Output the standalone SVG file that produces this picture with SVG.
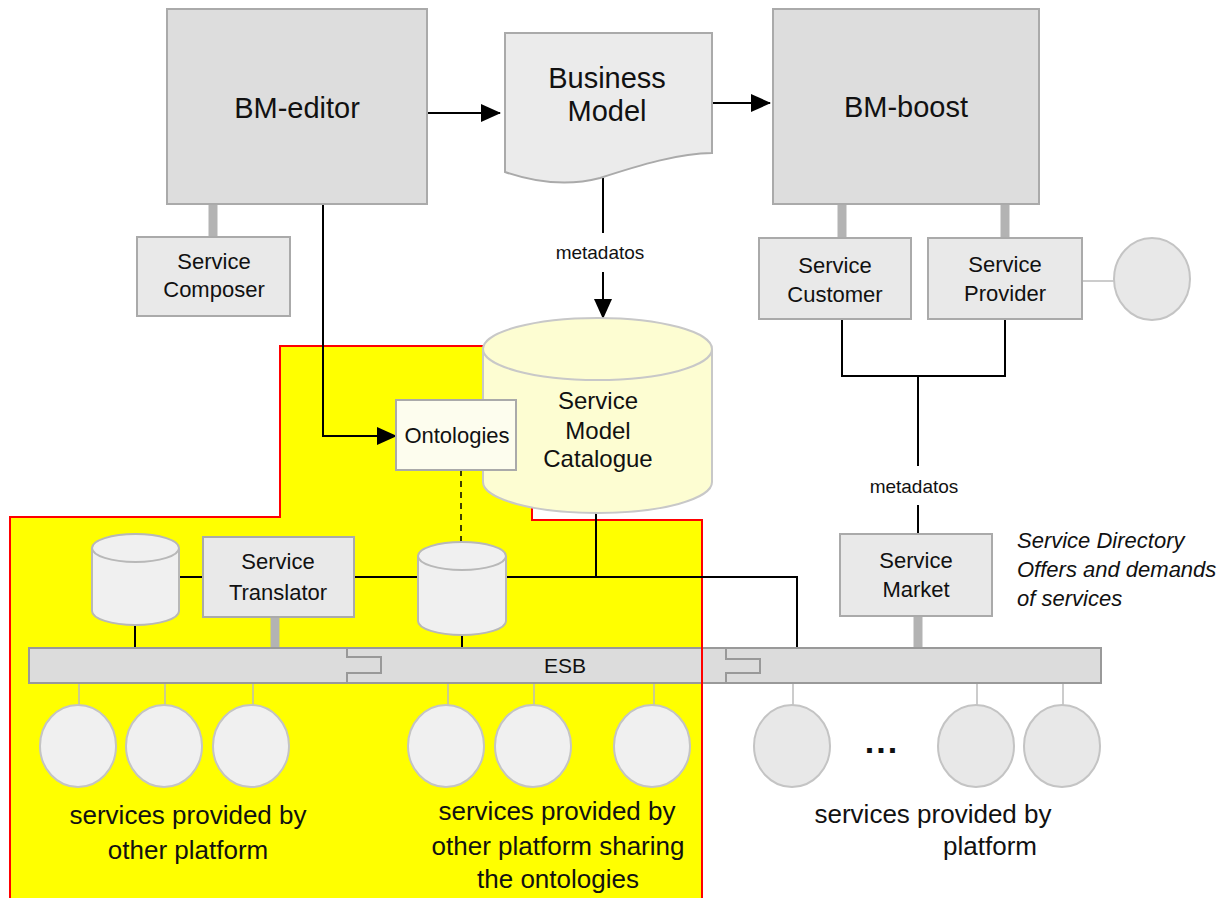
<svg xmlns="http://www.w3.org/2000/svg" width="1225" height="898" viewBox="0 0 1225 898">
<defs>
<marker id="ah" markerUnits="userSpaceOnUse" markerWidth="20" markerHeight="20" viewBox="0 0 20 20" refX="19" refY="10" orient="auto"><path d="M0,1 L20,10 L0,19 Z" fill="#000"/></marker>
<style>
text{font-family:"Liberation Sans",Arial,sans-serif;fill:#111;text-anchor:middle}
.big{fill:#dddddd;stroke:#aaaaaa;stroke-width:2}
.box{fill:#e9e9e9;stroke:#aaaaaa;stroke-width:2}
.stub{stroke:#b3b3b3;stroke-width:9}
.ln{stroke:#000;stroke-width:2;fill:none}
.gl{stroke:#bbbbbb;stroke-width:1.5;fill:none}
.svc{fill:#f0f0f0;stroke:#c4c4c4;stroke-width:2}
.svc2{fill:#e8e8e8;stroke:#c4c4c4;stroke-width:2}
.cyl{fill:#f0f0f0;stroke:#b8b8b8;stroke-width:2}
.t29{font-size:29px}
.t22{font-size:22px}
.t24{font-size:24px}
.t26{font-size:26px}
.t19{font-size:19px}
</style>
</defs>
<rect width="1225" height="898" fill="#fff"/>
<g id="platform-region">
<polygon points="10,517 280,517 280,346 532,346 532,520 702,520 702,900 10,900" fill="#ffff00" stroke="#ff0000" stroke-width="2"/>
</g>
<g id="connectors">
<line class="stub" x1="213" y1="204" x2="213" y2="237"/>
<line class="stub" x1="842" y1="204" x2="842" y2="238"/>
<line class="stub" x1="1005" y1="204" x2="1005" y2="238"/>
<line class="stub" x1="275" y1="617" x2="275" y2="648"/>
<line class="stub" x1="918" y1="616" x2="918" y2="648"/>
<line class="ln" x1="427" y1="113" x2="500" y2="113" stroke-width="2.5" marker-end="url(#ah)"/>
<line class="ln" x1="712" y1="103" x2="770" y2="103" stroke-width="2.5" marker-end="url(#ah)"/>
<line class="ln" x1="603" y1="178" x2="603" y2="233"/>
<line class="ln" x1="603" y1="272" x2="603" y2="318" marker-end="url(#ah)"/>
<polyline class="ln" points="323,204 323,436 396,436" marker-end="url(#ah)"/>
<polyline class="ln" points="842,319 842,376 1005,376 1005,319"/>
<line class="ln" x1="918" y1="376" x2="918" y2="466"/>
<line class="ln" x1="918" y1="505" x2="918" y2="534"/>
<line class="gl" x1="1082" y1="281" x2="1114" y2="281"/>
<line x1="461" y1="470" x2="461" y2="542" stroke="#000" stroke-width="1.5" stroke-dasharray="6,5"/>
<line class="ln" x1="179" y1="577" x2="203" y2="577"/>
<line class="ln" x1="354" y1="577" x2="418" y2="577"/>
<polyline class="ln" points="506,577 797,577 797,648"/>
<line class="ln" x1="596" y1="513" x2="596" y2="577"/>
<line class="ln" x1="135" y1="625" x2="135" y2="648" stroke-width="1.5"/>
<line class="ln" x1="462" y1="635" x2="462" y2="648" stroke-width="1.5"/>
<line class="gl" x1="79" y1="683" x2="79" y2="705"/>
<line class="gl" x1="165" y1="683" x2="165" y2="705"/>
<line class="gl" x1="253" y1="683" x2="253" y2="705"/>
<line class="gl" x1="448" y1="683" x2="448" y2="705"/>
<line class="gl" x1="534" y1="683" x2="534" y2="705"/>
<line class="gl" x1="654" y1="683" x2="654" y2="705"/>
<line class="gl" x1="793" y1="683" x2="793" y2="705"/>
<line class="gl" x1="977" y1="683" x2="977" y2="705"/>
<line class="gl" x1="1063" y1="683" x2="1063" y2="705"/>
</g>
<g id="bm-editor">
<rect class="big" x="167" y="9" width="260" height="195"/>
<text class="t29" x="297" y="118">BM-editor</text>
</g>
<g id="business-model">
<path d="M505,33 H712 V153 C680,153 640,165 600,178 C570,186 540,184 505,172 Z" fill="#ebebeb" stroke="#aaaaaa" stroke-width="2"/>
<text class="t29" x="607" y="88">Business</text>
<text class="t29" x="607" y="121">Model</text>
</g>
<g id="bm-boost">
<rect class="big" x="773" y="9" width="266" height="195"/>
<text class="t29" x="906" y="117">BM-boost</text>
</g>
<g id="service-composer">
<rect class="box" x="137" y="237" width="153" height="79"/>
<text class="t22" x="214" y="269">Service</text>
<text class="t22" x="214" y="297">Composer</text>
</g>
<g id="service-customer">
<rect class="box" x="759" y="238" width="152" height="81"/>
<text class="t22" x="835" y="273">Service</text>
<text class="t22" x="835" y="302">Customer</text>
</g>
<g id="service-provider">
<rect class="box" x="928" y="238" width="154" height="81"/>
<text class="t22" x="1005" y="272">Service</text>
<text class="t22" x="1005" y="301">Provider</text>
</g>
<g id="provider-service">
<ellipse class="svc2" cx="1152" cy="279" rx="38" ry="41"/>
</g>
<g id="label-metadatos-1"><text class="t19" x="600" y="259">metadatos</text></g>
<g id="label-metadatos-2"><text class="t19" x="914" y="493">metadatos</text></g>
<g id="service-model-catalogue">
<path d="M483,349 V482 A114.5,31 0 0 0 712,482 V349" fill="#fdfdd2" stroke="#c8c8c8" stroke-width="2"/>
<ellipse cx="597.5" cy="349" rx="114.5" ry="31" fill="#fdfdd2" stroke="#c8c8c8" stroke-width="2"/>
<text class="t24" x="598" y="409">Service</text>
<text class="t24" x="598" y="439">Model</text>
<text class="t24" x="598" y="467">Catalogue</text>
</g>
<g id="ontologies">
<rect x="396" y="400" width="120" height="70" fill="#fdfdee" stroke="#aaaaaa" stroke-width="2"/>
<text class="t22" x="457" y="443">Ontologies</text>
</g>
<g id="repo-left">
<path class="cyl" d="M92,548 V611 A43.5,14 0 0 0 179,611 V548"/>
<ellipse class="cyl" cx="135.5" cy="548" rx="43.5" ry="14"/>
</g>
<g id="repo-mid">
<path class="cyl" d="M418,556 V621 A44,14 0 0 0 506,621 V556"/>
<ellipse class="cyl" cx="462" cy="556" rx="44" ry="14"/>
</g>
<g id="service-translator">
<rect class="box" x="203" y="537" width="151" height="80"/>
<text class="t22" x="278" y="569">Service</text>
<text class="t22" x="278" y="600">Translator</text>
</g>
<g id="service-market">
<rect class="box" x="840" y="534" width="152" height="82"/>
<text class="t22" x="916" y="568">Service</text>
<text class="t22" x="916" y="597">Market</text>
</g>
<g id="esb">
<rect x="29" y="648" width="1072" height="35" fill="#dcdcdc" stroke="#999999" stroke-width="2"/>
<path d="M347,648 V657 H381 V673 H347 V683" fill="none" stroke="#999999" stroke-width="2"/>
<path d="M726,648 V659 H760 V673 H726 V683" fill="none" stroke="#999999" stroke-width="2"/>
<text x="565" y="673" style="font-size:21px">ESB</text>
<line x1="702" y1="646" x2="702" y2="685" stroke="#ff0000" stroke-width="2"/>
</g>
<g id="services-other">
<ellipse class="svc" cx="78" cy="746" rx="38" ry="41"/>
<ellipse class="svc" cx="164" cy="746" rx="38" ry="41"/>
<ellipse class="svc" cx="251" cy="746" rx="38" ry="41"/>
<text class="t26" x="188" y="824">services provided by</text>
<text class="t26" x="188" y="859">other platform</text>
</g>
<g id="services-sharing">
<ellipse class="svc" cx="446" cy="746" rx="38" ry="41"/>
<ellipse class="svc" cx="533" cy="746" rx="38" ry="41"/>
<ellipse class="svc" cx="652" cy="746" rx="38" ry="41"/>
<text class="t26" x="557" y="820">services provided by</text>
<text class="t26" x="558" y="855">other platform sharing</text>
<text class="t26" x="558" y="888">the ontologies</text>
</g>
<g id="services-platform">
<ellipse class="svc2" cx="792" cy="746" rx="38" ry="41"/>
<ellipse class="svc2" cx="976" cy="746" rx="38" ry="41"/>
<ellipse class="svc2" cx="1062" cy="746" rx="38" ry="41"/>
<text x="882" y="753" style="font-size:34px;font-weight:bold;letter-spacing:2px">...</text>
<text class="t26" x="933" y="823">services provided by</text>
<text class="t26" x="990" y="855">platform</text>
</g>
<g id="service-directory-note">
<text x="1017" y="548" style="font-size:22px;font-style:italic;text-anchor:start">Service Directory</text>
<text x="1017" y="577" style="font-size:22px;font-style:italic;text-anchor:start">Offers and demands</text>
<text x="1017" y="606" style="font-size:22px;font-style:italic;text-anchor:start">of services</text>
</g>
</svg>
